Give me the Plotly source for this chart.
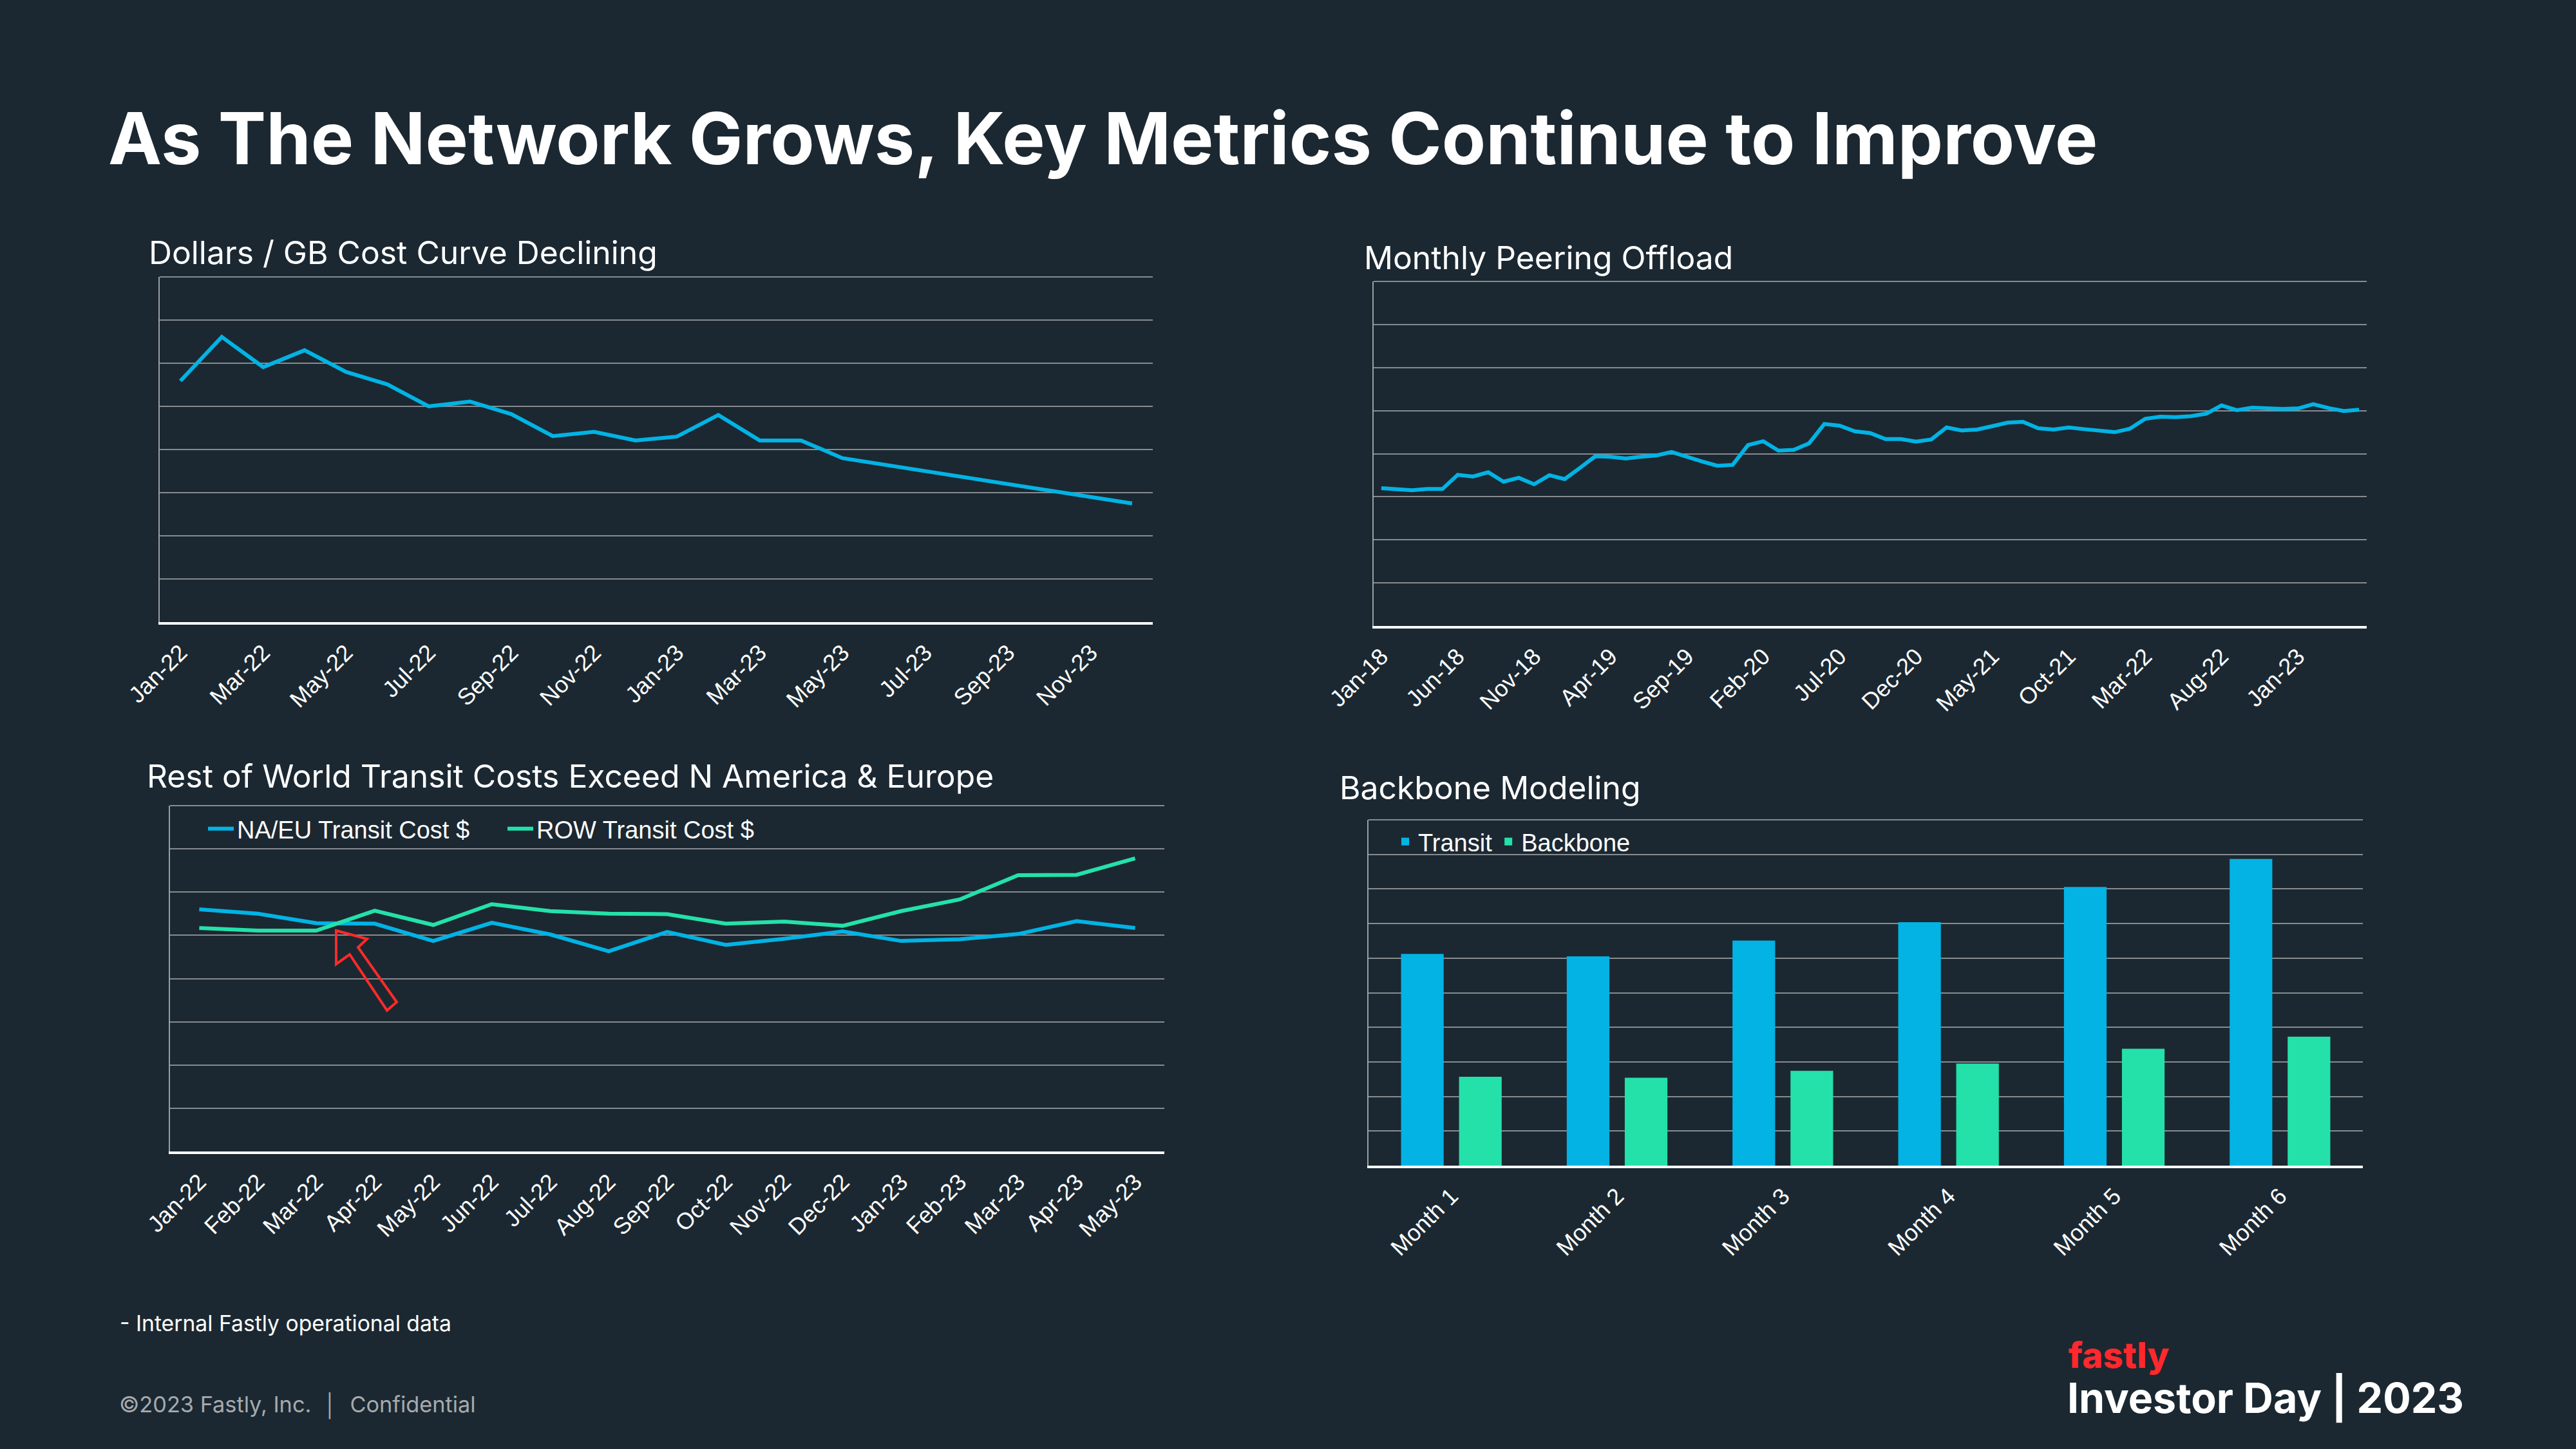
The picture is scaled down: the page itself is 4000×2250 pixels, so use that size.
import plotly.graph_objects as go

W, H = 4000, 2250
BG = "#1b2831"
BLUE = "#02b3e4"
GREEN = "#24e1aa"
GRID = "#868b8f"
TICKFONT = "Liberation Sans, Arial, sans-serif"
TITLEFONT = "Inter, Roboto, sans-serif"

# ---------------- data ----------------
cost_months = ["Jan-22", "Feb-22", "Mar-22", "Apr-22", "May-22", "Jun-22", "Jul-22", "Aug-22",
               "Sep-22", "Oct-22", "Nov-22", "Dec-22", "Jan-23", "Feb-23", "Mar-23", "Apr-23",
               "May-23", "Jun-23", "Jul-23", "Aug-23", "Sep-23", "Oct-23", "Nov-23", "Dec-23"]
cost_values = [5.59, 6.61, 5.91, 6.30, 5.80, 5.51, 5.00, 5.11, 4.82, 4.31, 4.41, 4.21,
               4.30, 4.80, 4.21, 4.21, 3.80, 3.65, 3.50, 3.35, 3.20, 3.05, 2.90, 2.75]
cost_ticks = ["Jan-22", "Mar-22", "May-22", "Jul-22", "Sep-22", "Nov-22",
              "Jan-23", "Mar-23", "May-23", "Jul-23", "Sep-23", "Nov-23"]

peering_months = [
    "Jan-18", "Feb-18", "Mar-18", "Apr-18", "May-18", "Jun-18", "Jul-18", "Aug-18", "Sep-18", "Oct-18", "Nov-18", "Dec-18",
    "Jan-19", "Feb-19", "Mar-19", "Apr-19", "May-19", "Jun-19", "Jul-19", "Aug-19", "Sep-19", "Oct-19", "Nov-19", "Dec-19",
    "Jan-20", "Feb-20", "Mar-20", "Apr-20", "May-20", "Jun-20", "Jul-20", "Aug-20", "Sep-20", "Oct-20", "Nov-20", "Dec-20",
    "Jan-21", "Feb-21", "Mar-21", "Apr-21", "May-21", "Jun-21", "Jul-21", "Aug-21", "Sep-21", "Oct-21", "Nov-21", "Dec-21",
    "Jan-22", "Feb-22", "Mar-22", "Apr-22", "May-22", "Jun-22", "Jul-22", "Aug-22", "Sep-22", "Oct-22", "Nov-22", "Dec-22",
    "Jan-23", "Feb-23", "Mar-23", "Apr-23", "May-23"]
peering_values = [
    3.20, 3.18, 3.15, 3.18, 3.18, 3.51, 3.47, 3.57, 3.35, 3.44, 3.29, 3.50,
    3.41, 3.67, 3.94, 3.93, 3.89, 3.93, 3.96, 4.04, 3.92, 3.82, 3.72, 3.74,
    4.20, 4.29, 4.07, 4.09, 4.24, 4.69, 4.65, 4.52, 4.48, 4.34, 4.34, 4.28,
    4.33, 4.61, 4.54, 4.56, 4.64, 4.72, 4.74, 4.59, 4.56, 4.61, 4.57, 4.54,
    4.50, 4.58, 4.81, 4.86, 4.85, 4.87, 4.93, 5.12, 5.01, 5.07, 5.05, 5.04,
    5.05, 5.15, 5.06, 4.99, 5.02]
peering_ticks = ["Jan-18", "Jun-18", "Nov-18", "Apr-19", "Sep-19", "Feb-20", "Jul-20",
                 "Dec-20", "May-21", "Oct-21", "Mar-22", "Aug-22", "Jan-23"]

transit_months = ["Jan-22", "Feb-22", "Mar-22", "Apr-22", "May-22", "Jun-22", "Jul-22", "Aug-22",
                  "Sep-22", "Oct-22", "Nov-22", "Dec-22", "Jan-23", "Feb-23", "Mar-23", "Apr-23", "May-23"]
naeu_cost = [5.60, 5.50, 5.28, 5.27, 4.87, 5.29, 5.02, 4.63, 5.08, 4.78, 4.92, 5.09,
             4.87, 4.91, 5.03, 5.33, 5.17]
row_cost = [5.17, 5.11, 5.11, 5.57, 5.24, 5.72, 5.56, 5.50, 5.49, 5.27, 5.32, 5.22,
            5.56, 5.83, 6.39, 6.40, 6.78]

model_months = ["Month 1", "Month 2", "Month 3", "Month 4", "Month 5", "Month 6"]
transit_vals = [6.12, 6.05, 6.51, 7.04, 8.06, 8.87]
backbone_vals = [2.57, 2.54, 2.74, 2.95, 3.38, 3.73]


# ---------------- helpers (layout only) ----------------
def px(x):
    return x / W


def py(y):
    return 1 - y / H


fig = go.Figure()

fig.add_trace(go.Scatter(x=cost_months, y=cost_values, mode="lines",
                         line=dict(color=BLUE, width=6), showlegend=False,
                         xaxis="x", yaxis="y"))
fig.add_trace(go.Scatter(x=peering_months, y=peering_values, mode="lines",
                         line=dict(color=BLUE, width=6), showlegend=False,
                         xaxis="x2", yaxis="y2"))
fig.add_trace(go.Scatter(x=transit_months, y=naeu_cost, mode="lines", name="NA/EU Transit Cost $",
                         line=dict(color=BLUE, width=6), legend="legend",
                         xaxis="x3", yaxis="y3"))
fig.add_trace(go.Scatter(x=transit_months, y=row_cost, mode="lines", name="ROW Transit Cost $",
                         line=dict(color=GREEN, width=6), legend="legend",
                         xaxis="x3", yaxis="y3"))
fig.add_trace(go.Bar(x=model_months, y=transit_vals, name="Transit", marker=dict(color=BLUE, line_width=0),
                     legend="legend2", xaxis="x4", yaxis="y4"))
fig.add_trace(go.Bar(x=model_months, y=backbone_vals, name="Backbone", marker=dict(color=GREEN, line_width=0),
                     legend="legend2", xaxis="x4", yaxis="y4"))

# panel boxes in pixels: (left, top, right, bottom)
boxes = {
    "1": (248, 430, 1790, 966),
    "2": (2133, 437, 3675, 972),
    "3": (264, 1251, 1808, 1788),
    "4": (2125, 1273, 3669, 1810),
}
yr = {"1": 8, "2": 8, "3": 8, "4": 10}
ncat = {"1": len(cost_months), "2": len(peering_months), "3": len(transit_months), "4": len(model_months)}
tickv = {"1": cost_ticks, "2": peering_ticks, "3": transit_months, "4": model_months}

shapes = []
for k, (l, t, r, b) in boxes.items():
    sx = "" if k == "1" else k
    xa = dict(domain=[px(l), px(r)], anchor="y" + sx, type="category",
              range=[-0.5, ncat[k] - 0.5], automargin=False,
              showline=True, linecolor="#ffffff", linewidth=4, showgrid=False, zeroline=False,
              tickangle=-45, ticks="", tickvals=tickv[k], ticktext=tickv[k],
              tickfont=dict(family=TICKFONT, size=36, color="#ffffff"),
              ticklabelstandoff=8, fixedrange=True)
    if k == "4":
        xa["layer"] = "above traces"
    ya = dict(domain=[py(b), py(t)], anchor="x" + sx, range=[0, yr[k]], dtick=1,
              tick0=0, automargin=False,
              showgrid=True, gridcolor=GRID, gridwidth=2, zeroline=False,
              showline=True, linecolor="#9a9ea2", linewidth=2,
              showticklabels=False, ticks="", fixedrange=True)
    fig.layout["xaxis" + sx] = xa
    fig.layout["yaxis" + sx] = ya
    # top gridline of each panel (plotly omits the grid line at the range end)
    shapes.append(dict(type="line", xref=f"x{sx} domain", yref=f"y{sx} domain",
                       x0=0, x1=1, y0=1, y1=1, layer="below",
                       line=dict(color=GRID, width=2)))

texts = [
    ("As The Network Grows, Key Metrics Continue to Improve", 166, 214, 111.5, 700, "#ffffff", TITLEFONT),
    ("Dollars / GB Cost Curve Declining", 229, 392, 49.8, 400, "#ffffff", TITLEFONT),
    ("Monthly Peering Offload", 2116, 400, 49.8, 400, "#ffffff", TITLEFONT),
    ("Rest of World Transit Costs Exceed N America & Europe", 226, 1205, 49.8, 400, "#ffffff", TITLEFONT),
    ("Backbone Modeling", 2078, 1223, 49.8, 400, "#ffffff", TITLEFONT),
    ("- Internal Fastly operational data", 184, 2054, 33.7, 400, "#ffffff", TITLEFONT),
    ("©2023 Fastly, Inc.  │  Confidential", 183, 2182, 34.3, 400, "#a6aaae", TITLEFONT),
    ("fastly", 3210, 2104, 55, 800, "#ff282d", TITLEFONT),
    ("Investor Day | 2023", 3208, 2171, 64.5, 700, "#ffffff", TITLEFONT),
]
annotations = []
for txt, x, y, size, weight, color, fam in texts:
    annotations.append(dict(text=txt, x=px(x), y=py(y), xref="paper", yref="paper",
                            xanchor="left", yanchor="middle", showarrow=False,
                            font=dict(family=fam, size=size, color=color, weight=weight)))

# hollow red callout arrow (pixel outline)
arrow_pts = [(522, 1445), (570, 1458), (556, 1471), (616, 1556), (601, 1569), (543, 1482), (522, 1497)]
path = "M " + " L ".join(f"{px(x):.5f},{py(y):.5f}" for x, y in arrow_pts) + " Z"
shapes.append(dict(type="path", path=path, xref="paper", yref="paper",
                   line=dict(color="#ff2b2b", width=4), fillcolor="rgba(0,0,0,0)"))

fig.update_layout(
    width=W, height=H, margin=dict(l=0, r=0, t=0, b=0, pad=0, autoexpand=False),
    paper_bgcolor=BG, plot_bgcolor=BG,
    annotations=annotations, shapes=shapes,
    barmode="group", bargap=0.30, bargroupgap=0.265,
    legend=dict(x=px(318), y=py(1287), xanchor="left", yanchor="middle", orientation="h",
                bgcolor="rgba(0,0,0,0)", font=dict(family=TICKFONT, size=38, color="#ffffff"),
                itemwidth=40, tracegroupgap=0, entrywidth=410),
    legend2=dict(x=px(2162), y=py(1307), xanchor="left", yanchor="middle", orientation="h",
                 bgcolor="rgba(0,0,0,0)", font=dict(family=TICKFONT, size=38, color="#ffffff"),
                 itemwidth=30, tracegroupgap=0),
)

fig.write_html("out.html")
